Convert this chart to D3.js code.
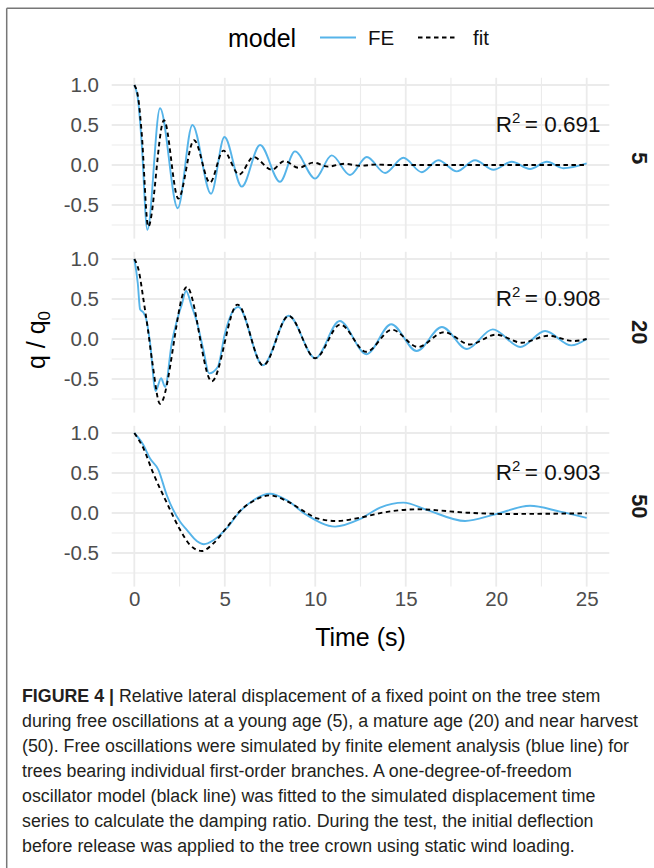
<!DOCTYPE html>
<html><head><meta charset="utf-8">
<script src="https://cdn.jsdelivr.net/npm/d3@7"></script>
<style>
html,body{margin:0;padding:0;background:#fff;}
svg{display:block;font-family:"Liberation Sans",Arial,Helvetica,sans-serif;}
</style></head>
<body>
<svg id="chart" width="654" height="868"></svg>
<script>
// ---------------- DATA ----------------
const facets = ["5", "20", "50"];
const r2Labels = ["0.691", "0.908", "0.903"];
const models = ["FE", "fit"];
const xTicks = [0, 5, 10, 15, 20, 25];
const yTicks = [-0.5, 0.0, 0.5, 1.0];

// [time (s), q/q0]
const fe5 = [[0,1.0],[0.22,0.79],[0.4,0.3],[0.72,-0.81],[1.42,0.71],[2.4,-0.54],[3.21,0.5],[4.24,-0.36],[4.98,0.35],
  [5.94,-0.27],[6.95,0.25],[8.05,-0.21],[8.88,0.17],[9.99,-0.17],[10.91,0.12],[11.92,-0.125],[12.85,0.10],
  [13.86,-0.10],[14.87,0.09],[15.89,-0.09],[16.8,0.06],[17.82,-0.08],[18.83,0.06],[19.85,-0.06],[20.86,0.04],
  [21.87,-0.05],[22.8,0.04],[23.71,-0.04],[25,0.02]];
const fit5 = [[0,1.0],[0.22,0.83],[0.4,0.42],[0.77,-0.77],[1.64,0.56],[2.43,-0.42],[3.3,0.31],[4.18,-0.22],[4.92,0.18],
  [5.8,-0.12],[6.58,0.10],[7.6,-0.06],[8.29,0.05],[9.07,-0.035],[9.9,0.03],[10.7,-0.02],[11.6,0.015],[12.5,-0.01],
  [13.3,0.005],[14.2,0.0],[25,0.0]];
const fe20 = [[0,1.0],[0.19,0.70],[0.32,0.37],[0.5,0.33],[0.68,0.23],[0.87,-0.05],[1.18,-0.65],[1.48,-0.49],[1.7,-0.60],
  [2.07,-0.05],[2.34,0.22],[2.62,0.43],[2.86,0.60],[3.17,0.41],[3.45,0.22],[3.82,-0.14],[4.13,-0.43],[4.61,-0.35],
  [5.01,0.07],[5.38,0.32],[5.75,0.40],[7.1,-0.33],[8.53,0.29],[10.0,-0.24],[11.35,0.225],[12.83,-0.19],[14.2,0.185],
  [15.6,-0.15],[17.0,0.15],[18.38,-0.125],[19.81,0.12],[21.33,-0.10],[22.7,0.10],[24.15,-0.08],[25,0.0]];
const fit20 = [[0,1.0],[0.25,0.85],[0.5,0.5],[0.75,0.12],[1.0,-0.3],[1.42,-0.81],[2.9,0.65],[4.28,-0.53],[5.7,0.43],
  [7.12,-0.33],[8.53,0.29],[10.0,-0.24],[11.38,0.18],[12.82,-0.16],[14.24,0.115],[15.68,-0.10],[17.12,0.085],
  [18.55,-0.068],[19.98,0.055],[21.42,-0.046],[22.86,0.04],[24.3,-0.025],[25,0.0]];
const fe50 = [[0,1.0],[0.5,0.85],[0.87,0.68],[1.33,0.54],[1.79,0.225],[2.53,-0.11],[2.9,-0.21],[3.45,-0.35],[3.85,-0.39],
  [4.37,-0.34],[5.11,-0.19],[5.84,0.02],[6.58,0.16],[7.5,0.24],[8.42,0.16],[9.53,-0.025],[11.1,-0.17],[12.48,-0.075],
  [13.58,0.067],[14.87,0.13],[16.16,0.04],[18.28,-0.10],[19.94,-0.017],[21.87,0.09],[23.53,0.017],[25,-0.06]];
const fit50 = [[0,1.0],[0.5,0.81],[1.04,0.5],[1.79,0.13],[2.53,-0.21],[3.08,-0.40],[3.73,-0.475],[4.37,-0.38],
  [5.11,-0.18],[5.84,0.025],[6.58,0.15],[7.5,0.22],[8.42,0.15],[9.53,0.0],[10.1,-0.067],[11.2,-0.10],[12.48,-0.058],
  [13.8,0.008],[15.65,0.046],[18.4,0.004],[20.5,-0.012],[25,-0.004]];

const feSeries = [fe5, fe20, fe50];
const fitSeries = [fit5, fit20, fit50];

const captionBold = "FIGURE 4 | ";
const captionLines = [
  "Relative lateral displacement of a fixed point on the tree stem",
  "during free oscillations at a young age (5), a mature age (20) and near harvest",
  "(50). Free oscillations were simulated by finite element analysis (blue line) for",
  "trees bearing individual first-order branches. A one-degree-of-freedom",
  "oscillator model (black line) was fitted to the simulated displacement time",
  "series to calculate the damping ratio. During the test, the initial deflection",
  "before release was applied to the tree crown using static wind loading."
];

// ---------------- LAYOUT / STYLE ----------------
const svg = d3.select("#chart");
svg.append("rect").attr("width",654).attr("height",868).attr("fill","#fff");
const blue = "#56B4E9";
const gridCol = "#ebebeb";
const panelLeft = 111.7, panelRight = 609.3;
const panelTop0 = 77.8, panelH = 160.8, panelStep = 174;

const x = d3.scaleLinear().domain([-1.25, 26.25]).range([panelLeft, panelRight]);

// frame
svg.append("line").attr("x1",6.7).attr("y1",8.3).attr("x2",654).attr("y2",8.3).attr("stroke","#777").attr("stroke-width",1.5);
svg.append("line").attr("x1",6.7).attr("y1",8.3).attr("x2",6.7).attr("y2",868).attr("stroke","#777").attr("stroke-width",1.5);

const minorX = d3.range(-0.0, 26, 2.5).filter(d => d % 5 !== 0);
const minorY = [-0.75, -0.25, 0.25, 0.75];

facets.forEach((f, i) => {
  const top = panelTop0 + i * panelStep;
  const y = d3.scaleLinear().domain([-0.92, 1.09]).range([top + panelH, top]);
  const g = svg.append("g");
  g.selectAll(".mx").data(minorX).enter().append("line")
    .attr("x1", d => x(d)).attr("x2", d => x(d)).attr("y1", top).attr("y2", top + panelH)
    .attr("stroke", gridCol).attr("stroke-width", 1.1);
  g.selectAll(".my").data(minorY).enter().append("line")
    .attr("y1", d => y(d)).attr("y2", d => y(d)).attr("x1", panelLeft).attr("x2", panelRight)
    .attr("stroke", gridCol).attr("stroke-width", 1.1);
  g.selectAll(".Mx").data(xTicks).enter().append("line")
    .attr("x1", d => x(d)).attr("x2", d => x(d)).attr("y1", top).attr("y2", top + panelH)
    .attr("stroke", gridCol).attr("stroke-width", 1.8);
  g.selectAll(".My").data(yTicks).enter().append("line")
    .attr("y1", d => y(d)).attr("y2", d => y(d)).attr("x1", panelLeft).attr("x2", panelRight)
    .attr("stroke", gridCol).attr("stroke-width", 1.8);

  const yAxis = d3.axisLeft(y).tickValues(yTicks).tickSize(0).tickPadding(0)
    .tickFormat(d3.format(".1f"));
  const ya = svg.append("g").attr("transform", `translate(99,0)`).call(yAxis);
  ya.select(".domain").remove();
  ya.selectAll("text").attr("font-size", 20.5).attr("fill", "#4d4d4d")
    .attr("font-family", "Liberation Sans, Arial, sans-serif")
    .text(d => d3.format(".1f")(d).replace("\u2212", "-"));

  const line = d3.line().x(d => x(d[0])).y(d => y(d[1])).curve(d3.curveMonotoneX);
  g.append("path").datum(feSeries[i]).attr("d", line).attr("fill", "none")
    .attr("stroke", blue).attr("stroke-width", 1.9);
  g.append("path").datum(fitSeries[i]).attr("d", line).attr("fill", "none")
    .attr("stroke", "#000").attr("stroke-width", 1.9).attr("stroke-dasharray", "4.5,3.5");

  const t = svg.append("text").attr("x", 600.5).attr("y", top + 53.9)
    .attr("text-anchor", "end").attr("font-size", 22.5).attr("fill", "#111");
  t.append("tspan").text("R");
  t.append("tspan").attr("font-size", 15).attr("dy", -9).text("2");
  t.append("tspan").attr("dy", 9).text("\u2009= " + r2Labels[i]);

  const cy = top + panelH / 2;
  svg.append("text").attr("transform", `translate(632,${cy}) rotate(90)`)
    .attr("text-anchor", "middle").attr("font-size", 22).attr("font-weight", "bold")
    .attr("fill", "#1a1a1a").text(f);
});

const lastBottom = panelTop0 + 2 * panelStep + panelH;
const xAxis = d3.axisBottom(x).tickValues(xTicks).tickSize(0).tickPadding(0);
const xa = svg.append("g").attr("transform", `translate(0,${lastBottom + 5})`).call(xAxis);
xa.select(".domain").remove();
xa.selectAll("text").attr("font-size", 20.5).attr("fill", "#4d4d4d")
  .attr("font-family", "Liberation Sans, Arial, sans-serif");

svg.append("text").attr("x", (panelLeft + panelRight) / 2).attr("y", 646)
  .attr("text-anchor", "middle").attr("font-size", 25).attr("fill", "#000").text("Time (s)");
const yt = svg.append("text").attr("transform", "translate(45,340) rotate(-90)")
  .attr("text-anchor", "middle").attr("font-size", 25).attr("fill", "#000");
yt.append("tspan").text("q / q");
yt.append("tspan").attr("font-size", 17).attr("dy", 5).text("0");

// legend
svg.append("text").attr("x", 228).attr("y", 47).attr("font-size", 25).attr("fill", "#000").text("model");
svg.append("line").attr("x1", 320).attr("x2", 356).attr("y1", 37.5).attr("y2", 37.5)
  .attr("stroke", blue).attr("stroke-width", 1.9);
svg.append("text").attr("x", 368).attr("y", 45).attr("font-size", 20.5).attr("fill", "#111").text(models[0]);
svg.append("line").attr("x1", 418).attr("x2", 458).attr("y1", 37.5).attr("y2", 37.5)
  .attr("stroke", "#000").attr("stroke-width", 1.9).attr("stroke-dasharray", "4.5,3.5");
svg.append("text").attr("x", 473).attr("y", 45).attr("font-size", 20.5).attr("fill", "#111").text(models[1]);

// caption: uniform horizontal compression, fitted to the widest line
const capTexts = captionLines.map((ln, i) => {
  const tx = svg.append("text").attr("x", 22).attr("y", 702 + i * 25)
    .attr("font-size", 18).attr("fill", "#231f20");
  if (i === 0) tx.append("tspan").attr("font-weight", "bold").text(captionBold);
  tx.append("tspan").text(ln);
  return tx;
});
const widths = capTexts.map(tx => tx.node().getBBox().width);
const ratio = 616 / d3.max(widths);
capTexts.forEach((tx, i) => {
  tx.attr("textLength", widths[i] * ratio).attr("lengthAdjust", "spacingAndGlyphs");
});
</script>
</body></html>
